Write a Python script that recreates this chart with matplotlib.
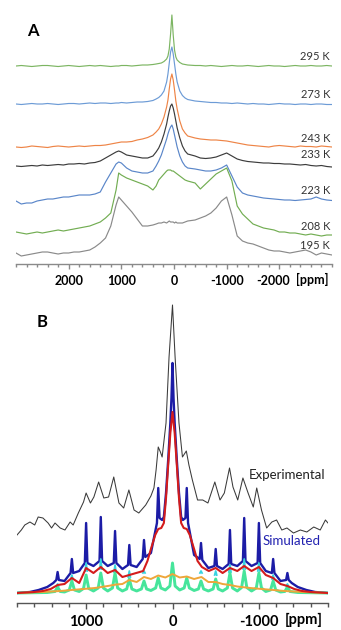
import numpy as np
import matplotlib
matplotlib.use("Agg")
import matplotlib.pyplot as plt
from matplotlib.ticker import MultipleLocator, FixedLocator
from matplotlib.transforms import ScaledTranslation

plt.rcParams['font.family'] = ['Lato', 'DejaVu Sans']

# ---------------- Panel A : variable temperature spectra ----------------
ppm_a = [3000, 2900, 2800, 2700, 2600, 2500, 2400, 2300, 2200, 2100, 2000, 1900, 1800, 1700,
         1600, 1500, 1400, 1300, 1200, 1100, 1050, 1000, 900, 800, 700, 600, 500, 400,
         340, 290, 240, 190, 140, 115, 90, 65, 40, 15, -10, -35, -60, -110, -160, -210, -260,
         -400, -500, -600, -700, -800, -900, -1000, -1100, -1200, -1300, -1400, -1500, -1600,
         -1700, -1800, -1900, -2000, -2100, -2200, -2300, -2400, -2500, -2600, -2700, -2800,
         -2900, -3000]

temps = ["295 K", "273 K", "243 K", "233 K", "223 K", "208 K", "195 K"]

spec_295 = [0, 0.5, 0, -0.5, 0, 0.5, 0.5, 0, -0.5, 0, 0.5, 0, -0.5, 0, 0.5, 0, 0.5, 0, -0.5, 0,
            0, 0.5, 0.5, 0, 0.5, 1, 1, 1.5,
            2, 2.5, 3, 4.5, 7, 10, 17, 32, 51, 31, 16, 9, 6, 3.5, 2, 1.5, 1,
            0.5, 0.5, 0, 0.5, 0, -0.5, 0, 0.5, 0, 0, 0.5, 0, -0.5, 0, 0.5, 0, 0, -0.5, 0, 0.5,
            0, 0, 0.5, 0, 0, 0.5, 0]
spec_273 = [0, -0.5, 0, 0.5, 0, 0, 0.5, 0, -0.5, 0, 0.5, 0.5, 0, 0.5, 1, 0.5, 1, 1, 0.5, 1,
            1, 1.5, 1, 1.5, 2, 2, 2.5, 3.5,
            5, 6.5, 9, 13, 22, 30, 41, 52, 57, 50, 40, 30, 22, 13, 8.5, 6, 4.5,
            3, 2.5, 2, 1.5, 1.5, 1, 1, 0.5, 1, 0.5, 0, 0.5, 0, 0, -0.5, 0, 0.5, 0, 0, -0.5,
            0, 0, -0.5, 0, 0, -0.5, -0.5]
spec_243 = [0, -0.5, 0, 1, 0.5, 0, -0.5, 0.5, 1, 0.5, 0, 0.5, 1, 0.5, 1, 1.5, 1.5, 2, 3, 4,
            4.5, 5, 5, 5.5, 7, 8, 9.5, 12,
            15, 18, 23, 30, 40, 47, 58, 68, 73, 67, 57, 46, 38, 26, 18, 14, 11,
            9, 8, 7.5, 7, 7, 6.5, 6, 5, 4, 3, 2, 1.5, 1, 0.5, 0, 1, 1.5, 1, 0.5, 0,
            1, 0.5, 0.5, 0, 1, 0.5, 0]
spec_233 = [0, -0.5, 0, 0.5, 0, 1, 0.5, 1, 1.5, 1, 2, 2, 2.5, 2, 3, 3.5, 5, 8, 11, 14,
            15, 14, 11, 10, 9, 8, 8, 10,
            14, 18, 24, 32, 42, 49, 55, 60, 62, 58, 52, 45, 38, 28, 20, 15, 12,
            10, 8, 7.5, 8, 9, 11, 13, 10, 7, 5.5, 4.5, 4, 3.5, 3, 3, 2.5, 2.5, 2, 2, 1.5,
            1, 1.5, 0.5, 0, 0.5, -0.5, -1]
spec_223 = [0, -3, -2, -2, 0, 1, 2, 2, 3, 4, 4, 5, 6, 6, 6, 7, 9, 19, 28, 37,
            39, 38, 33, 30, 29, 28, 28, 30,
            35, 40, 46, 54, 62, 67, 71, 74, 76, 72, 66, 60, 54, 45, 39, 35, 33,
            32, 31, 30, 30, 31, 33, 36, 25, 14, 8, 6, 5, 4, 3, 2.5, 2, 1.5, 1, 1, 0.5,
            1, 1.5, 2, 4, 2, 1, 0.5]
spec_208 = [4, 3, 2, 3, 4, 3, 4, 5, 6, 5, 6, 7, 8, 9, 10, 12, 14, 18, 23, 46,
            63, 61, 58, 56, 54, 52, 50, 46,
            50, 56, 59, 62, 65, 66, 66, 66, 65, 65, 64, 63, 62, 60, 58, 56, 55,
            53, 47, 52, 57, 62, 65, 68, 55, 30, 22, 17, 12, 10, 8, 7, 6, 4, 4, 3, 3,
            2, 1, 2, 1, 0, 1, 1]
spec_195 = [2, -1, 0, 1, 2, 3, 3, 2, 1, 2, 2, 3, 3, 4, 5, 8, 12, 17, 29, 50,
            58, 55, 49, 43, 36, 29, 29, 30,
            31, 32, 32, 33, 32, 33, 34, 33, 33, 33, 32, 33, 32, 32, 32, 33, 34,
            35, 37, 39, 42, 47, 54, 58, 40, 19, 14, 12, 11, 9, 7, 5, 4, 4, 3, 2, 3,
            4, 5, 3, 0, 2, 1, 0]

spectra_a = [spec_295, spec_273, spec_243, spec_233, spec_223, spec_208, spec_195]
colors_a = ['#7cb562', '#6c9bd6', '#ee8446', '#3c3c3c', '#5a86c9', '#72ad52', '#8a8a8a']
offsets_a = [198, 160, 117, 98, 63, 28, 9]
label_y_a = [207, 169, 126, 110, 74, 38, 19]

# ---------------- Panel B : experimental vs simulated ----------------
exp_ppm = [1800, 1750, 1710, 1650, 1595, 1555, 1500, 1440, 1400, 1360, 1300, 1245, 1185,
           1150, 1090, 1030, 1000, 950, 910, 855, 795, 740, 680, 620, 565, 505, 445, 390,
           310, 250, 215, 190, 165, 140, 120, 75, 40, 0, -30, -75, -115, -160, -190, -230,
           -290, -350, -410, -490, -550, -600, -660, -700, -755, -815, -875, -935, -975,
           -1030, -1090, -1150, -1205, -1265, -1325, -1400, -1480, -1555, -1635, -1710,
           -1770, -1800]
exp_h = [58, 63, 68, 71, 68, 76, 75, 70, 65, 70, 65, 63, 71,
         68, 80, 91, 100, 90, 96, 111, 95, 96, 116, 90, 85, 103, 83, 80,
         88, 97, 105, 123, 146, 141, 136, 170, 236, 288, 236, 170, 136, 142, 128, 113,
         93, 93, 90, 111, 93, 100, 125, 106, 93, 115, 100, 86, 105,
         83, 65, 71, 73, 63, 65, 60, 63, 61, 66, 63,
         73, 70]

blue_ppm = [1800, 1650, 1550, 1450, 1380, 1345, 1330, 1315, 1250, 1180, 1165, 1150, 1080,
            1015, 1000, 985, 915, 845, 830, 815, 750, 680, 665, 650, 580, 515, 500, 485, 415,
            345, 330, 315, 250, 180, 165, 150, 120, 100, 75, 50, 25, 12, 0, -12, -25, -50,
            -75, -100, -120, -150, -165, -180, -250, -315, -330, -345, -415, -485, -500,
            -515, -580, -650, -665, -680, -750, -815, -830, -845, -915, -985, -1000, -1015,
            -1080, -1150, -1165, -1180, -1250, -1315, -1330, -1345, -1380, -1450, -1550,
            -1650, -1800]
blue_h = [0, 1, 3, 6, 10, 13, 21, 13, 12, 20, 34, 20, 22,
          30, 70, 30, 27, 32, 76, 32, 27, 30, 62, 30, 24, 28, 48, 28, 26,
          34, 53, 36, 40, 70, 105, 75, 73, 76, 100, 133, 170, 195, 230, 195, 170, 133,
          100, 76, 73, 75, 105, 70, 38, 34, 50, 33, 25, 27, 44,
          27, 24, 29, 63, 29, 27, 32, 75, 32, 27, 30, 70, 30,
          22, 20, 34, 20, 12, 13, 20, 13, 10, 6, 3,
          1, 0]

red_ppm = [1800, 1600, 1500, 1410, 1330, 1250, 1165, 1080, 1000, 915, 830, 750, 665, 580,
           500, 420, 340, 290, 250, 200, 165, 130, 100, 75, 50, 25, 0, -25, -50, -75, -100,
           -130, -165, -200, -250, -290, -340, -420, -500, -580, -665, -750, -830, -915,
           -1000, -1080, -1165, -1250, -1330, -1410, -1500, -1600, -1800]
red_h = [0, 1, 2, 4, 8, 9, 15, 10, 25, 20, 26, 20, 23, 16,
         18, 20, 22, 32, 44, 58, 64, 65, 70, 95, 128, 160, 181, 160, 128, 95, 70,
         65, 64, 58, 44, 32, 26, 22, 25, 20, 25, 22, 27, 22,
         26, 18, 15, 9, 7, 4, 2, 1, 0]

green_ppm = [1800, 1450, 1360, 1330, 1300, 1250, 1195, 1165, 1135, 1080, 1030, 1000, 970, 915,
             860, 830, 800, 750, 695, 665, 635, 580, 530, 500, 470, 415, 360, 330, 300, 250,
             195, 165, 135, 83, 30, 0, -30, -83, -135, -165, -195, -250, -300, -330, -360,
             -415, -470, -500, -530, -580, -635, -665, -695, -750, -800, -830, -860, -915,
             -970, -1000, -1030, -1080, -1135, -1165, -1195, -1250, -1300, -1330, -1360,
             -1450, -1800]
green_h = [0, 0.5, 1.5, 6, 1.5, 1, 3, 12, 3, 1.5, 4.5, 18, 4.5, 2,
           5, 20, 5, 2, 5, 20, 5, 2, 4, 14, 4, 2, 4, 12, 4, 2.5,
           5, 15, 5, 3, 7, 30, 7, 3, 5, 15, 5, 2.5, 4, 12, 4,
           2, 4, 14, 4, 2, 5, 20, 5, 2, 5.5, 22, 5.5, 2,
           5, 20, 5, 1.5, 3, 12, 3, 1, 1.5, 6, 1.5,
           0.5, 0]

cyan_pos = [1330, 1165, 1000, 830, 665, 500, 330, -330, -500, -665, -830, -1000, -1165, -1330]
cyan_top = [9, 18, 30, 34, 28, 22, 22, 22, 22, 28, 34, 30, 18, 9]
cyan_foot = [7, 14, 22, 24, 21, 16, 20, 20, 18, 21, 24, 22, 14, 7]

orange_ppm = [1800, 1500, 1300, 1100, 900, 750, 650, 580, 500, 415, 330, 250, 165, 83, 0,
              -83, -165, -250, -335, -415, -500, -580, -665, -750, -900, -1100, -1300,
              -1500, -1800]
orange_h = [0, 1, 2, 3.5, 5, 7, 8.5, 9, 13, 11, 16, 14, 17.5, 15.5, 19,
            15.5, 16.5, 14, 16, 11, 11, 9, 8, 6.5, 5, 3.5, 2,
            1, 0]

base_b = 10  # simulated baseline above axis line

fig = plt.figure(figsize=(3.41, 6.30), dpi=100)

# ---- panel A ----
axA = fig.add_axes([16 / 341, 1 - 264 / 630, 316 / 341, 254 / 630])
for spec, col, off in zip(spectra_a, colors_a, offsets_a):
    axA.plot(ppm_a, np.array(spec) + off, color=col, lw=0.85)
for t, y in zip(temps, label_y_a):
    axA.text(-2960, y, t, ha='right', va='center', fontsize=8, color='#333333')
axA.set_xlim(3000, -3000)
axA.set_ylim(0, 254)
axA.text(0.054, 0.917, "A", transform=axA.transAxes, ha='center', va='center',
         fontsize=12, fontweight='bold')

# ---- panel B ----
axB = fig.add_axes([17 / 341, 27 / 630, 311 / 341, 308 / 630])
axB.plot(exp_ppm, np.array(exp_h) + base_b, color='#3a3a3a', lw=0.75)
axB.plot(blue_ppm, np.array(blue_h) + base_b, color='#1c1ca6', lw=1.7)
for p, top, foot in zip(cyan_pos, cyan_top, cyan_foot):
    axB.plot([p + 12, p, p - 12], [foot + base_b, top + base_b, foot + base_b],
             color='#38d3e0', lw=1.3)
axB.plot(green_ppm, np.array(green_h) + base_b, color='#46e59b', lw=2.1)
axB.plot(orange_ppm, np.array(orange_h) + base_b, color='#eea63a', lw=1.4)
axB.plot(red_ppm, np.array(red_h) + base_b, color='#d41c1c', lw=1.5)
axB.set_xlim(1800, -1800)
axB.set_ylim(0, 308)
axB.text(0.080, 0.912, "B", transform=axB.transAxes, ha='center', va='center',
         fontsize=12, fontweight='bold')
axB.text(0.746, 0.4156, "Experimental", transform=axB.transAxes, ha='left', va='center',
         fontsize=9.5, color='#222222')
axB.text(0.788, 0.201, "Simulated", transform=axB.transAxes, ha='left', va='center',
         fontsize=9.5, color='#2222b0')

# ---- axes styling ----
for ax, majors, fs, spc, mlen, nlen in [(axA, [2000, 1000, 0, -1000, -2000], 9, '#8a8a8a', 3.6, 2.5),
                                        (axB, [1000, 0, -1000], 10.5, '#555555', 4.3, 2.9)]:
    for s in ['left', 'right', 'top']:
        ax.spines[s].set_visible(False)
    ax.spines['bottom'].set_color(spc)
    ax.spines['bottom'].set_linewidth(1.0)
    ax.set_yticks([])
    ax.xaxis.set_major_locator(FixedLocator(majors))
    ax.set_xticklabels([str(m) for m in majors], fontweight='bold', fontsize=fs)
    ax.xaxis.set_minor_locator(MultipleLocator(200))
    ax.tick_params(axis='x', which='major', direction='out', length=mlen, width=1.0,
                   color=spc, pad=4)
    ax.tick_params(axis='x', which='minor', direction='out', length=nlen, width=1.0,
                   color=spc)
    ax.patch.set_alpha(0)

# the last label of panel A sits a little left of its tick, leaving room for the unit
lab = axA.get_xticklabels()[-1]
lab.set_transform(lab.get_transform() + ScaledTranslation(-6 / 100, 0, fig.dpi_scale_trans))

fig.text(296 / 341, 1 - 279 / 630, "[ppm]", ha='left', va='center', fontsize=9,
         fontweight='bold')
fig.text(285 / 341, 1 - 620 / 630, "[ppm]", ha='left', va='center', fontsize=10.5,
         fontweight='bold')

fig.savefig("out.png", dpi=100)
